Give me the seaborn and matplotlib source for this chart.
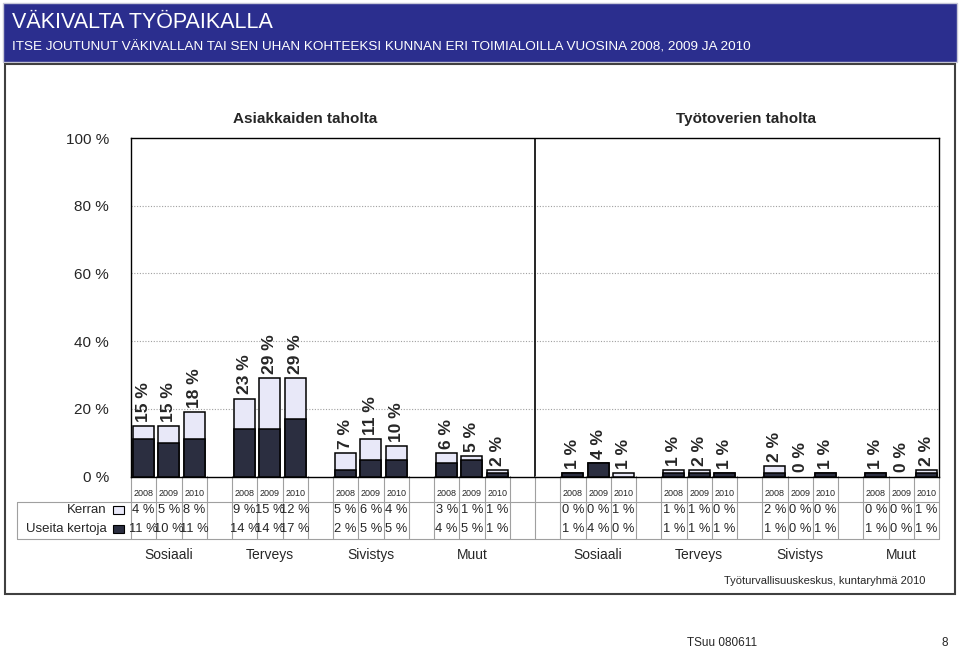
import numpy as np
import pandas as pd
import matplotlib
matplotlib.use("Agg")
import matplotlib.pyplot as plt
import matplotlib.transforms as mtransforms
from matplotlib.patches import Rectangle
import seaborn as sns

# data
HALVES = ["Asiakkaiden taholta", "Työtoverien taholta"]
GROUPS = ["Sosiaali", "Terveys", "Sivistys", "Muut"]
YEARS = ["2008", "2009", "2010"]

kerran_asiakas = [4, 5, 8, 9, 15, 12, 5, 6, 4, 3, 1, 1]
useita_asiakas = [11, 10, 11, 14, 14, 17, 2, 5, 5, 4, 5, 1]
yhteensa_asiakas = [15, 15, 18, 23, 29, 29, 7, 11, 10, 6, 5, 2]

kerran_tyotoveri = [0, 0, 1, 1, 1, 0, 2, 0, 0, 0, 0, 1]
useita_tyotoveri = [1, 4, 0, 1, 1, 1, 1, 0, 1, 1, 0, 1]
yhteensa_tyotoveri = [1, 4, 1, 1, 2, 1, 2, 0, 1, 1, 0, 2]

Y_TICKS = [0, 20, 40, 60, 80, 100]

LIGHT = "#e8e8f8"
DARK = "#2b2e40"
HEADER_BLUE = "#2b2e8e"
GRID_GRAY = "#a0a0a0"

W, H = 960, 652
N_SLOTS = 32


def fx(px):
    return px / W


def fy(px):
    return 1 - px / H


# one slot per bar, a blank slot between groups and two between the halves
rows = []
for h, (kerran, useita, total) in enumerate([
    (kerran_asiakas, useita_asiakas, yhteensa_asiakas),
    (kerran_tyotoveri, useita_tyotoveri, yhteensa_tyotoveri),
]):
    for i in range(len(kerran)):
        g, y = divmod(i, 3)
        rows.append({
            "slot": h * 17 + g * 4 + y,
            "half": HALVES[h],
            "group": GROUPS[g],
            "year": YEARS[y],
            "kerran": kerran[i],
            "useita": useita[i],
            "total_label": total[i],
        })
df = pd.DataFrame(rows)
df["stack"] = df["kerran"] + df["useita"]
# empty segments are not drawn at all
df["stack_bar"] = df["stack"].where(df["stack"] > 0)
df["useita_bar"] = df["useita"].where(df["useita"] > 0)

sns.set_style("white")
plt.rcParams["font.family"] = ["Liberation Sans", "DejaVu Sans"]
NARROW = ["Liberation Sans Narrow", "Liberation Sans", "DejaVu Sans"]

fig = plt.figure(figsize=(9.6, 6.52), dpi=100)

# header band and outer frame
fig.patches.append(Rectangle((fx(3), fy(62)), fx(954), 59 / H, transform=fig.transFigure,
                             facecolor=HEADER_BLUE, edgecolor="#c8c8d8", linewidth=1, zorder=0))
fig.patches.append(Rectangle((fx(5), fy(594)), fx(950), 530 / H, transform=fig.transFigure,
                             facecolor="none", edgecolor="#404040", linewidth=1.5, zorder=0))
fig.text(fx(12), fy(22), "VÄKIVALTA TYÖPAIKALLA", color="white", fontsize=15.5,
         family=NARROW, va="center", ha="left")
fig.text(fx(12), fy(47), "ITSE JOUTUNUT VÄKIVALLAN TAI SEN UHAN KOHTEEKSI KUNNAN ERI TOIMIALOILLA VUOSINA 2008, 2009 JA 2010",
         color="white", fontsize=9.7, family=NARROW, va="center", ha="left")

left, right, top, bottom = 131, 939, 138, 476.5
ax = fig.add_axes([fx(left), fy(bottom), fx(right - left), (bottom - top) / H])

sns.barplot(data=df, x="slot", y="stack_bar", native_scale=True, color=LIGHT, saturation=1,
            edgecolor="black", linewidth=1.1, width=0.83, errorbar=None, ax=ax, zorder=3)
sns.barplot(data=df, x="slot", y="useita_bar", native_scale=True, color=DARK, saturation=1,
            edgecolor="black", linewidth=1.1, width=0.83, errorbar=None, ax=ax, zorder=4)

for _, r in df.iterrows():
    ax.annotate(f"{r['total_label']} %", (r["slot"], r["stack"]), xytext=(0, 3),
                textcoords="offset points", rotation=90, ha="center", va="bottom",
                fontsize=12.5, fontweight="bold", zorder=5)

ax.set_xlim(-0.5, N_SLOTS - 0.5)
ax.set_ylim(0, 100)
ax.set_yticks(Y_TICKS)
ax.set_yticklabels([f"{v} %" for v in Y_TICKS], fontsize=11)
ax.tick_params(axis="y", length=0, pad=16)
ax.set_xticks([])
ax.set_xlabel("")
ax.set_ylabel("")
for v in Y_TICKS[1:-1]:
    ax.axhline(v, color=GRID_GRAY, linestyle=(0, (1, 1.5)), linewidth=0.8, zorder=1)
for s in ax.spines.values():
    s.set_visible(True)
    s.set_color("black")
    s.set_linewidth(1)
ax.axvline(15.5, color="black", linewidth=1.2, zorder=2)

# section titles
fig.text(fx(305), fy(119), HALVES[0], ha="center", va="center", fontsize=11, fontweight="bold")
fig.text(fx(746), fy(119), HALVES[1], ha="center", va="center", fontsize=11, fontweight="bold")

# data table under the axis
tr = mtransforms.blended_transform_factory(ax.transData, fig.transFigure)
for k in range(N_SLOTS + 1):
    ax.plot([k - 0.5, k - 0.5], [fy(476), fy(539)], transform=tr, color=GRID_GRAY,
            linewidth=0.8, clip_on=False)
for ypx in (502, 539):
    fig.add_artist(plt.Line2D([fx(17), fx(right)], [fy(ypx), fy(ypx)], color=GRID_GRAY,
                              linewidth=0.8, transform=fig.transFigure))
fig.add_artist(plt.Line2D([fx(17), fx(17)], [fy(502), fy(539)], color=GRID_GRAY,
                          linewidth=0.8, transform=fig.transFigure))

for _, r in df.iterrows():
    ax.text(r["slot"], fy(494), r["year"], transform=tr, ha="center", va="center", fontsize=6.5)
    ax.text(r["slot"], fy(510), f"{r['kerran']} %", transform=tr, ha="center", va="center", fontsize=9.3)
    ax.text(r["slot"], fy(529), f"{r['useita']} %", transform=tr, ha="center", va="center", fontsize=9.3)

fig.text(fx(107), fy(510), "Kerran", ha="right", va="center", fontsize=9.5)
fig.text(fx(107), fy(529), "Useita kertoja", ha="right", va="center", fontsize=9.5)
for ypx, col in ((510, LIGHT), (529, DARK)):
    fig.patches.append(Rectangle((fx(113), fy(ypx + 4)), fx(11), 8 / H, transform=fig.transFigure,
                                 facecolor=col, edgecolor="black", linewidth=0.8))

# group names under the table
for (half, group), sub in df.groupby(["half", "group"], sort=False):
    ax.text(sub["slot"].mean(), fy(555), group, transform=tr, ha="center", va="center", fontsize=10)

fig.text(fx(925), fy(581), "Työturvallisuuskeskus, kuntaryhmä 2010", ha="right", va="center",
         fontsize=8, family=NARROW)
fig.text(fx(722), fy(643), "TSuu 080611", ha="center", va="center", fontsize=8.5, family=NARROW)
fig.text(fx(945), fy(643), "8", ha="center", va="center", fontsize=8.5, family=NARROW)

fig.savefig("out.png", dpi=100)
